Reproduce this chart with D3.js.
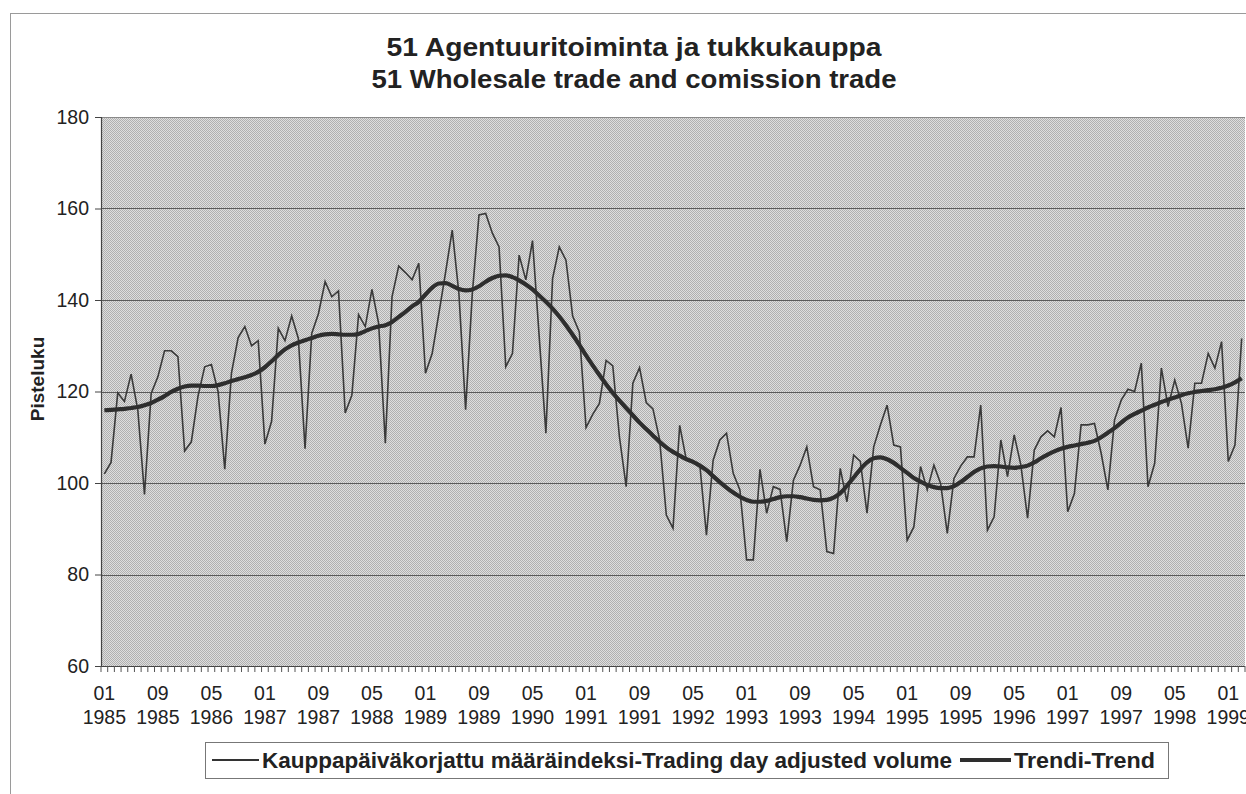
<!DOCTYPE html>
<html>
<head>
<meta charset="utf-8">
<script src="https://cdn.jsdelivr.net/npm/d3@7"></script>
<style>
  body { margin: 0; background: #fff; }
  svg { display: block; }
  text { font-family: "Liberation Sans", Arial, Helvetica, sans-serif; fill: #222; }
</style>
</head>
<body>
<svg id="chart"></svg>
<script>
// monthly index, 01/1985 .. 03/1999
const volume = [
  102.0, 104.5, 119.7, 117.8, 123.8, 116.0, 97.5, 119.6, 123.2, 128.9,
  128.9, 127.6, 107.0, 109.0, 119.0, 125.4, 125.9, 120.0, 103.0, 124.0,
  131.8, 134.2, 130.0, 131.1, 108.5, 113.5, 133.8, 131.1, 136.5, 131.6,
  107.5, 132.7, 137.0, 144.0, 140.7, 142.0, 115.3, 119.2, 136.8, 134.2,
  142.3, 134.9, 108.7, 140.7, 147.4, 146.0, 144.4, 148.0, 124.0, 128.3,
  137.0, 146.0, 155.3, 141.4, 116.0, 141.4, 158.6, 158.9, 154.6, 151.6,
  125.4, 128.3, 149.8, 144.4, 153.0, 132.0, 110.9, 144.7, 151.6, 148.7,
  136.5, 133.0, 112.1, 115.0, 117.4, 126.8, 125.6, 110.0, 99.2, 121.8,
  125.2, 117.6, 116.2, 109.5, 93.0, 90.1, 112.6, 105.0, 104.6, 104.1,
  88.6, 105.0, 109.4, 110.9, 102.1, 98.5, 83.2, 83.2, 103.0, 93.4,
  99.2, 98.6, 87.2, 100.6, 103.9, 107.9, 99.2, 98.5, 85.0, 84.6,
  103.2, 95.9, 106.1, 104.7, 93.4, 107.9, 112.7, 117.0, 108.3, 107.9,
  87.5, 90.4, 103.6, 98.5, 103.9, 99.9, 89.0, 101.0, 103.7, 105.7,
  105.7, 117.0, 89.7, 92.6, 109.4, 101.4, 110.5, 103.9, 92.3, 107.2,
  110.1, 111.4, 110.1, 116.5, 93.7, 97.7, 112.7, 112.7, 113.0, 106.5,
  98.5, 113.8, 118.1, 120.5, 120.0, 126.2, 99.2, 104.3, 125.1, 116.7,
  122.5, 117.4, 107.6, 121.8, 121.8, 128.3, 125.1, 130.9, 104.7, 108.3,
  131.6
];

const trend = [
  115.9, 116.0, 116.1, 116.2, 116.4, 116.6, 117.0, 117.5, 118.2, 119.0,
  119.9, 120.6, 121.1, 121.3, 121.3, 121.2, 121.2, 121.4, 121.8, 122.3,
  122.7, 123.1, 123.6, 124.3, 125.3, 126.6, 128.0, 129.2, 130.1, 130.7,
  131.2, 131.7, 132.2, 132.5, 132.6, 132.5, 132.4, 132.4, 132.6, 133.2,
  133.8, 134.2, 134.5, 135.2, 136.3, 137.4, 138.6, 139.6, 141.2, 142.7,
  143.6, 143.7, 143.1, 142.4, 142.1, 142.3, 143.0, 144.0, 144.8, 145.3,
  145.4, 145.0, 144.3, 143.4, 142.3, 141.0, 139.6, 138.1, 136.4, 134.5,
  132.4, 130.2, 127.9, 125.7, 123.6, 121.6, 119.7, 118.0, 116.4, 114.8,
  113.2, 111.8, 110.4, 109.0, 107.8, 106.8, 106.0, 105.2, 104.6, 103.8,
  102.8, 101.5, 100.2, 99.0, 97.9, 97.0, 96.3, 95.9, 95.9, 96.1,
  96.5, 96.9, 97.1, 97.1, 96.9, 96.6, 96.3, 96.2, 96.3, 96.8,
  97.8, 99.4, 101.2, 103.0, 104.5, 105.4, 105.6, 105.2, 104.4, 103.3,
  102.2, 101.1, 100.3, 99.6, 99.1, 98.9, 98.9, 99.3, 100.2, 101.3,
  102.4, 103.2, 103.6, 103.7, 103.6, 103.4, 103.3, 103.5, 103.8, 104.5,
  105.4, 106.2, 106.9, 107.5, 107.9, 108.2, 108.5, 108.8, 109.2, 110.0,
  111.0, 112.0, 113.2, 114.3, 115.1, 115.8, 116.5, 117.1, 117.7, 118.2,
  118.7, 119.2, 119.6, 119.9, 120.1, 120.3, 120.5, 120.8, 121.3, 122.0,
  122.9
];

const months = d3.range(volume.length);   // index 0 = 01/1985
const tickMonths = ["01","09","05","01","09","05","01","09","05","01","09",
                    "05","01","09","05","01","09","05","01","09","05","01"];
const tickYears  = ["1985","1985","1986","1987","1987","1988","1989","1989","1990","1991","1991",
                    "1992","1993","1993","1994","1995","1995","1996","1997","1997","1998","1999"];
const yTicks = [60, 80, 100, 120, 140, 160, 180];

const W = 1246, H = 794;
const plot = {left: 101, right: 1245, top: 117, bottom: 666};

const svg = d3.select("#chart").attr("width", W).attr("height", H);

// stipple fill of the plot area
const defs = svg.append("defs");
const pat = defs.append("pattern")
  .attr("id", "stipple").attr("width", 2).attr("height", 2)
  .attr("patternUnits", "userSpaceOnUse");
pat.append("rect").attr("width", 2).attr("height", 2).attr("fill", "#dedede");
pat.append("rect").attr("width", 1).attr("height", 1).attr("fill", "#b0b0b0");
pat.append("rect").attr("x", 1).attr("y", 1).attr("width", 1).attr("height", 1).attr("fill", "#b0b0b0");

// chart frame
svg.append("rect")
  .attr("x", 10.5).attr("y", 13.5).attr("width", W + 20).attr("height", H + 20)
  .attr("fill", "none").attr("stroke", "#9a9a9a").attr("stroke-width", 1);

const x = d3.scaleBand().domain(months).range([plot.left, plot.right]).paddingInner(0).paddingOuter(0);
const y = d3.scaleLinear().domain([60, 180]).range([plot.bottom, plot.top]);
const cx = i => x(i) + x.bandwidth() / 2;

svg.append("rect")
  .attr("x", plot.left).attr("y", plot.top)
  .attr("width", plot.right - plot.left).attr("height", plot.bottom - plot.top)
  .attr("fill", "url(#stipple)");

// gridlines
svg.append("g").selectAll("line")
  .data(yTicks.filter(d => d > 60 && d < 180))
  .join("line")
  .attr("x1", plot.left).attr("x2", plot.right)
  .attr("y1", d => Math.round(y(d)) + 0.5).attr("y2", d => Math.round(y(d)) + 0.5)
  .attr("stroke", "#5a5a5a").attr("stroke-width", 1.2);

svg.append("line")
  .attr("x1", plot.left).attr("x2", plot.right)
  .attr("y1", plot.top + 0.5).attr("y2", plot.top + 0.5)
  .attr("stroke", "#8a8a8a").attr("stroke-width", 1);

// y axis
const yAxis = svg.append("g")
  .attr("transform", `translate(${plot.left},0)`)
  .call(d3.axisLeft(y).tickValues(yTicks).tickSize(6).tickPadding(6));
yAxis.select(".domain").attr("stroke", "#444").attr("stroke-width", 1.2);
yAxis.selectAll(".tick line").attr("stroke", "#444");
yAxis.selectAll(".tick text")
  .style("font-family", "'Liberation Sans', Arial, sans-serif")
  .style("font-size", "19.5px").attr("fill", "#222");

svg.append("text")
  .attr("transform", `translate(44,379) rotate(-90)`)
  .attr("text-anchor", "middle")
  .style("font-size", "19px").style("font-weight", "bold")
  .text("Pisteluku");

// x axis: line plus monthly ticks between categories
const xAxisG = svg.append("g");
xAxisG.append("line")
  .attr("x1", plot.left).attr("x2", plot.right)
  .attr("y1", plot.bottom + 0.5).attr("y2", plot.bottom + 0.5)
  .attr("stroke", "#444").attr("stroke-width", 1.2);
xAxisG.selectAll("line.mt")
  .data(months.concat([volume.length]))
  .join("line")
  .attr("class", "mt")
  .attr("x1", d => d < volume.length ? x(d) : plot.right)
  .attr("x2", d => d < volume.length ? x(d) : plot.right)
  .attr("y1", plot.bottom).attr("y2", plot.bottom + 6)
  .attr("stroke", "#555").attr("stroke-width", 1);

const lbl = xAxisG.selectAll("g.lbl")
  .data(tickMonths.map((m, k) => ({m, yr: tickYears[k], i: k * 8})))
  .join("g").attr("class", "lbl")
  .attr("transform", d => `translate(${cx(d.i)},0)`);
lbl.append("text").attr("y", 700).attr("text-anchor", "middle")
  .style("font-size", "19.5px").text(d => d.m);
lbl.append("text").attr("y", 724).attr("text-anchor", "middle")
  .style("font-size", "19.5px").text(d => d.yr);

// series
const clip = defs.append("clipPath").attr("id", "plotclip");
clip.append("rect").attr("x", plot.left).attr("y", plot.top - 5)
  .attr("width", plot.right - plot.left).attr("height", plot.bottom - plot.top + 10);

const line = d3.line().x((d, i) => cx(i)).y(d => y(d));

svg.append("path")
  .datum(volume)
  .attr("clip-path", "url(#plotclip)")
  .attr("d", line)
  .attr("fill", "none").attr("stroke", "#3a3a3a").attr("stroke-width", 1.6)
  .attr("stroke-linejoin", "miter");

svg.append("path")
  .datum(trend)
  .attr("clip-path", "url(#plotclip)")
  .attr("d", d3.line().curve(d3.curveMonotoneX).x((d, i) => cx(i)).y(d => y(d)))
  .attr("fill", "none").attr("stroke", "#2e2e2e").attr("stroke-width", 4.2)
  .attr("stroke-linejoin", "round");

// title
const title = svg.append("g");
title.append("text").attr("x", 634).attr("y", 56).attr("text-anchor", "middle")
  .style("font-size", "26px").style("font-weight", "bold")
  .attr("textLength", 495).attr("lengthAdjust", "spacingAndGlyphs")
  .text("51 Agentuuritoiminta ja tukkukauppa");
title.append("text").attr("x", 634).attr("y", 88).attr("text-anchor", "middle")
  .style("font-size", "26px").style("font-weight", "bold")
  .attr("textLength", 525).attr("lengthAdjust", "spacingAndGlyphs")
  .text("51 Wholesale trade and comission trade");

// legend
const leg = svg.append("g");
leg.append("rect").attr("x", 205.5).attr("y", 742.5).attr("width", 963).attr("height", 36)
  .attr("fill", "#fff").attr("stroke", "#777").attr("stroke-width", 1);
leg.append("line").attr("x1", 212).attr("x2", 259).attr("y1", 760).attr("y2", 760)
  .attr("stroke", "#333").attr("stroke-width", 1.8);
leg.append("text").attr("x", 262).attr("y", 768)
  .style("font-size", "22px").style("font-weight", "bold")
  .attr("textLength", 690).attr("lengthAdjust", "spacingAndGlyphs")
  .text("Kauppapäiväkorjattu määräindeksi-Trading day adjusted volume");
leg.append("line").attr("x1", 960).attr("x2", 1011).attr("y1", 760).attr("y2", 760)
  .attr("stroke", "#2e2e2e").attr("stroke-width", 4.2);
leg.append("text").attr("x", 1014).attr("y", 768)
  .style("font-size", "22px").style("font-weight", "bold")
  .attr("textLength", 141).attr("lengthAdjust", "spacingAndGlyphs")
  .text("Trendi-Trend");
</script>
</body>
</html>
